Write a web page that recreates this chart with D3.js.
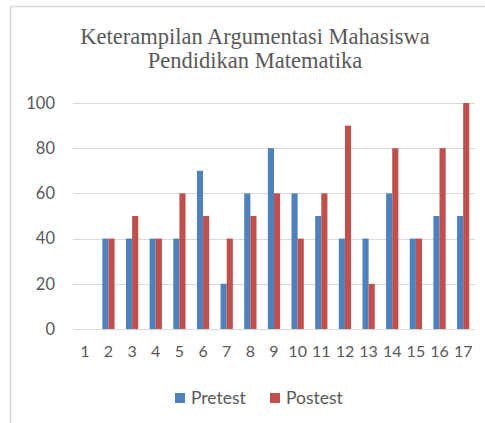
<!DOCTYPE html>
<html>
<head>
<meta charset="utf-8">
<script src="https://cdn.jsdelivr.net/npm/d3@7"></script>
<style>
  body { margin: 0; background: #fff; }
  svg { display: block; }
</style>
</head>
<body>
<svg id="chart"></svg>
<script>
const width = 485;
const height = 423;

// data
const categories = ["1","2","3","4","5","6","7","8","9","10","11","12","13","14","15","16","17"];
const pretest  = [0, 40, 40, 40, 40, 70, 20, 60, 80, 60, 50, 40, 40, 60, 40, 50, 50];
const postest  = [0, 40, 50, 40, 60, 50, 40, 50, 60, 40, 60, 90, 20, 80, 40, 80, 100];
const seriesNames = ["Pretest", "Postest"];
const yTicks = [0, 20, 40, 60, 80, 100];
const titleLines = ["Keterampilan Argumentasi Mahasiswa", "Pendidikan Matematika"];

const colors = { Pretest: "#4f81bd", Postest: "#c0504d" };
const textColor = "#595959";
const gridColor = "#d9d9d9";

const plot = { left: 73, right: 475, top: 103, bottom: 329 };

const svg = d3.select("#chart")
    .attr("width", width)
    .attr("height", height);

// frame (only top and left edges are visible in the crop)
svg.append("line")
    .attr("x1", 10).attr("x2", width)
    .attr("y1", 6.5).attr("y2", 6.5)
    .attr("stroke", gridColor).attr("stroke-width", 1.5);
svg.append("line")
    .attr("x1", 10.5).attr("x2", 10.5)
    .attr("y1", 6).attr("y2", height)
    .attr("stroke", gridColor).attr("stroke-width", 1.5);

// title
svg.append("text")
    .attr("x", 255)
    .attr("y", 44)
    .attr("text-anchor", "middle")
    .attr("font-family", "'Liberation Serif', 'Times New Roman', serif")
    .attr("font-size", 22.5)
    .attr("fill", textColor)
    .selectAll("tspan")
    .data(titleLines)
    .enter().append("tspan")
    .attr("x", 255)
    .attr("dy", (d, i) => i === 0 ? 0 : 24)
    .text(d => d);

const x = d3.scaleBand()
    .domain(categories)
    .range([plot.left, plot.right])
    .paddingInner(0)
    .paddingOuter(0);

const x1 = d3.scaleBand()
    .domain(seriesNames)
    .range([0, x.bandwidth()])
    .paddingInner(0)
    .paddingOuter(0.93);

const y = d3.scaleLinear()
    .domain([0, 100])
    .range([plot.bottom, plot.top]);

// gridlines
svg.append("g")
    .selectAll("line")
    .data(yTicks)
    .enter().append("line")
    .attr("x1", plot.left).attr("x2", plot.right)
    .attr("y1", d => Math.round(y(d)) + 0.5)
    .attr("y2", d => Math.round(y(d)) + 0.5)
    .attr("stroke", gridColor)
    .attr("stroke-width", 1);

// y axis labels
const yAxis = d3.axisLeft(y).tickValues(yTicks).tickSize(0).tickPadding(0);
const yg = svg.append("g")
    .attr("transform", `translate(${plot.left - 18},0)`)
    .call(yAxis);
yg.select(".domain").remove();
yg.selectAll("text")
    .attr("font-family", "Lato, 'Open Sans', sans-serif")
    .attr("font-size", 16.5)
    .attr("fill", textColor);

// x axis labels
const xAxis = d3.axisBottom(x).tickSize(0).tickPadding(0);
const xg = svg.append("g")
    .attr("transform", `translate(0,${plot.bottom + 17})`)
    .call(xAxis);
xg.select(".domain").remove();
xg.selectAll("text")
    .attr("font-family", "Lato, 'Open Sans', sans-serif")
    .attr("font-size", 16)
    .attr("fill", textColor);

// bars
const rows = categories.map((c, i) => ({ cat: c, Pretest: pretest[i], Postest: postest[i] }));

svg.append("g")
    .selectAll("g")
    .data(rows)
    .enter().append("g")
    .attr("transform", d => `translate(${x(d.cat)},0)`)
    .selectAll("rect")
    .data(d => seriesNames.map(s => ({ key: s, value: d[s] })))
    .enter().append("rect")
    .attr("x", d => x1(d.key))
    .attr("width", x1.bandwidth())
    .attr("y", d => y(d.value))
    .attr("height", d => y(0) - y(d.value))
    .attr("fill", d => colors[d.key]);

// legend
const legendItems = [
    { name: "Pretest", x: 175 },
    { name: "Postest", x: 270 }
];
const legend = svg.append("g")
    .selectAll("g")
    .data(legendItems)
    .enter().append("g")
    .attr("transform", d => `translate(${d.x},393)`);
legend.append("rect")
    .attr("width", 10).attr("height", 10)
    .attr("fill", d => colors[d.name]);
legend.append("text")
    .attr("x", 16)
    .attr("y", 11)
    .attr("font-family", "Lato, 'Open Sans', sans-serif")
    .attr("font-size", 17.5)
    .attr("fill", textColor)
    .text(d => d.name);
</script>
</body>
</html>
